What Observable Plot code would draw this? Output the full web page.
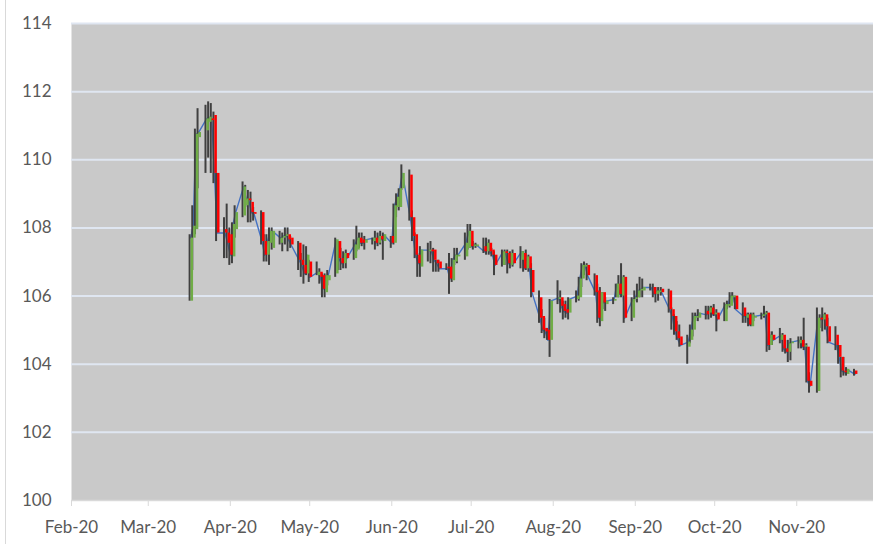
<!DOCTYPE html>
<html>
<head>
<meta charset="utf-8">
<script src="https://cdn.jsdelivr.net/npm/d3@7"></script>
<script src="https://cdn.jsdelivr.net/npm/@observablehq/plot@0.6"></script>
<style>
  html, body { margin: 0; padding: 0; background: #ffffff; }
  #wrap { position: relative; width: 873px; height: 544px; overflow: hidden; }
  #edge { position: absolute; left: 5px; top: 0; width: 1px; height: 544px; background: #d9d9d9; }
</style>
</head>
<body>
<div id="wrap"><div id="edge"></div></div>
<script>
// Daily OHLC quotes, 2020
const dates = [
  "2020-03-17","2020-03-18","2020-03-19","2020-03-20",
  "2020-03-23","2020-03-24","2020-03-25","2020-03-26","2020-03-27",
  "2020-03-30","2020-03-31","2020-04-01","2020-04-02","2020-04-03",
  "2020-04-06","2020-04-07","2020-04-08","2020-04-09","2020-04-10",
  "2020-04-13","2020-04-14","2020-04-15","2020-04-16","2020-04-17",
  "2020-04-20","2020-04-21","2020-04-22","2020-04-23","2020-04-24",
  "2020-04-27","2020-04-28","2020-04-29","2020-04-30","2020-05-01",
  "2020-05-04","2020-05-05","2020-05-06","2020-05-07","2020-05-08",
  "2020-05-11","2020-05-12","2020-05-13","2020-05-14","2020-05-15",
  "2020-05-18","2020-05-19","2020-05-20","2020-05-21","2020-05-22",
  "2020-05-25","2020-05-26","2020-05-27","2020-05-28","2020-05-29",
  "2020-06-01","2020-06-02","2020-06-03","2020-06-04","2020-06-05",
  "2020-06-08","2020-06-09","2020-06-10","2020-06-11","2020-06-12",
  "2020-06-15","2020-06-16","2020-06-17","2020-06-18","2020-06-19",
  "2020-06-22","2020-06-23","2020-06-24","2020-06-25","2020-06-26",
  "2020-06-29","2020-06-30","2020-07-01","2020-07-02","2020-07-03",
  "2020-07-06","2020-07-07","2020-07-08","2020-07-09","2020-07-10",
  "2020-07-13","2020-07-14","2020-07-15","2020-07-16","2020-07-17",
  "2020-07-20","2020-07-21","2020-07-22","2020-07-23","2020-07-24",
  "2020-07-27","2020-07-28","2020-07-29","2020-07-30","2020-07-31",
  "2020-08-03","2020-08-04","2020-08-05","2020-08-06","2020-08-07",
  "2020-08-10","2020-08-11","2020-08-12","2020-08-13","2020-08-14",
  "2020-08-17","2020-08-18","2020-08-19","2020-08-20","2020-08-21",
  "2020-08-24","2020-08-25","2020-08-26","2020-08-27","2020-08-28",
  "2020-08-31","2020-09-01","2020-09-02","2020-09-03","2020-09-04",
  "2020-09-07","2020-09-08","2020-09-09","2020-09-10","2020-09-11",
  "2020-09-14","2020-09-15","2020-09-16","2020-09-17","2020-09-18",
  "2020-09-21","2020-09-22","2020-09-23","2020-09-24","2020-09-25",
  "2020-09-28","2020-09-29","2020-09-30","2020-10-01","2020-10-02",
  "2020-10-05","2020-10-06","2020-10-07","2020-10-08","2020-10-09",
  "2020-10-12","2020-10-13","2020-10-14","2020-10-15","2020-10-16",
  "2020-10-19","2020-10-20","2020-10-21","2020-10-22","2020-10-23",
  "2020-10-26","2020-10-27","2020-10-28","2020-10-29","2020-10-30",
  "2020-11-02","2020-11-03","2020-11-04","2020-11-05","2020-11-06",
  "2020-11-09","2020-11-10","2020-11-11","2020-11-12","2020-11-13",
  "2020-11-16","2020-11-17","2020-11-18","2020-11-19","2020-11-20",
  "2020-11-23"
];
const open = [
  105.85,107.7,107.95,110.65,
  110.85,111.1,111.2,111.3,109.6,
  107.95,107.85,107.8,107.15,107.95,
  108.35,108.65,108.85,108.75,108.45,
  108.45,107.6,107.2,107.55,107.4,
  107.55,107.7,107.75,107.8,107.7,
  107.55,107.05,106.9,106.65,107.0,
  106.6,106.7,106.6,106.1,106.45,
  106.65,107.6,107.1,106.95,107.25,
  107.1,107.35,107.7,107.65,107.55,
  107.6,107.7,107.55,107.75,107.6,
  107.75,107.55,108.6,108.6,109.15,
  109.55,108.3,107.8,107.2,106.85,
  107.3,107.35,107.35,107.05,107.0,
  106.85,106.85,106.45,107.0,107.15,
  107.15,107.4,107.9,107.45,107.45,
  107.45,107.3,107.55,107.35,107.2,
  106.9,107.3,107.25,106.9,107.25,
  107.05,107.25,106.8,107.15,106.75,
  105.95,105.4,105.05,105.0,104.7,
  105.9,105.95,105.75,105.6,105.5,
  105.9,105.95,106.5,106.85,106.9,
  106.6,106.15,105.25,106.1,105.75,
  105.85,105.95,106.35,106.0,106.55,
  105.35,105.9,105.95,106.15,106.15,
  106.25,106.25,106.05,106.1,106.2,
  106.15,105.6,105.4,104.95,104.8,
  104.5,104.7,105.0,105.35,105.35,
  105.55,105.5,105.65,105.45,105.5,
  105.25,105.7,105.7,105.95,106.0,
  105.65,105.35,105.45,105.1,105.35,
  105.4,105.45,105.5,104.55,104.85,
  104.7,104.85,104.45,104.35,104.6,
  104.6,104.7,104.5,104.5,103.5,
  103.2,105.35,105.3,105.45,105.1,
  104.85,104.55,104.2,103.8,103.7,
  103.8
];
const high = [
  107.8,108.65,110.9,111.5,
  111.6,111.7,111.65,111.4,109.6,
  108.3,108.7,108.0,108.15,108.65,
  109.35,109.25,109.1,109.05,108.6,
  108.5,107.8,107.8,108.0,108.0,
  107.9,107.85,108.0,108.0,107.75,
  107.6,107.25,107.5,107.45,107.05,
  107.0,106.8,106.65,106.65,106.75,
  107.7,107.6,107.4,107.3,107.35,
  107.65,108.05,107.85,107.85,107.75,
  107.7,107.9,107.85,107.9,107.85,
  107.75,108.7,109.0,109.15,109.85,
  109.7,108.5,107.85,107.25,107.45,
  107.55,107.6,107.4,107.05,107.05,
  106.95,107.25,107.1,107.4,107.4,
  107.85,108.1,108.1,107.6,107.55,
  107.7,107.7,107.65,107.4,107.3,
  107.35,107.35,107.35,107.3,107.35,
  107.45,107.3,107.35,107.2,106.95,
  106.15,105.6,105.35,105.05,105.9,
  106.45,106.15,105.85,105.85,105.95,
  106.15,106.55,106.95,107.0,106.95,
  106.65,106.35,106.25,106.1,105.95,
  105.95,106.35,106.6,106.95,106.6,
  105.95,106.15,106.35,106.55,106.5,
  106.35,106.35,106.25,106.25,106.25,
  106.2,105.65,105.45,105.25,105.15,
  104.85,105.15,105.5,105.5,105.6,
  105.7,105.7,105.7,105.75,105.6,
  105.8,105.85,106.1,106.1,106.0,
  105.8,105.5,105.5,105.5,105.5,
  105.5,105.7,105.55,104.95,104.95,
  105.05,104.9,104.7,104.7,104.75,
  104.8,104.8,105.35,104.6,103.75,
  105.65,105.45,105.65,105.5,105.35,
  105.1,104.55,104.2,104.2,103.9,
  103.85
];
const low = [
  105.85,106.75,107.8,109.15,
  109.6,110.05,109.6,109.3,107.6,
  107.1,107.1,106.9,106.95,107.7,
  108.3,108.6,108.15,108.15,108.2,
  107.5,107.0,107.0,106.9,107.35,
  107.5,107.3,107.5,107.3,107.4,
  106.75,106.55,106.35,106.6,106.4,
  106.6,106.35,105.95,105.95,106.3,
  106.55,106.75,106.75,106.8,106.8,
  107.05,107.3,107.4,107.45,107.35,
  107.5,107.35,107.45,107.5,107.05,
  107.4,107.5,108.3,108.5,109.1,
  108.2,107.6,107.1,106.55,106.55,
  107.0,106.95,106.7,106.7,106.7,
  106.75,106.05,106.4,106.9,106.95,
  107.05,107.35,107.4,107.35,107.4,
  107.25,107.2,107.2,107.15,106.6,
  106.85,106.9,106.65,106.8,106.85,
  106.8,106.7,106.75,106.7,105.95,
  105.2,104.9,104.75,104.7,104.2,
  105.75,105.5,105.3,105.35,105.3,
  105.8,105.85,106.25,106.6,106.45,
  106.0,105.2,105.1,105.6,105.55,
  105.75,105.95,105.95,105.95,105.2,
  105.25,105.85,105.8,105.95,105.95,
  106.15,105.95,105.8,105.85,106.0,
  105.5,105.0,104.85,104.7,104.5,
  104.0,104.6,104.8,105.25,105.25,
  105.3,105.3,105.35,105.4,104.95,
  105.25,105.6,105.65,105.8,105.6,
  105.2,105.2,105.1,105.1,105.25,
  105.3,105.35,104.35,104.4,104.55,
  104.6,104.35,104.3,104.05,104.1,
  104.45,104.45,104.4,103.45,103.15,
  103.15,105.05,104.95,105.0,104.6,
  104.4,104.0,103.6,103.65,103.65,
  103.65
];
const close = [
  107.7,108.05,110.75,110.8,
  111.2,111.25,111.15,109.6,107.85,
  107.85,107.55,107.2,108.1,108.45,
  109.2,108.85,108.8,108.45,108.4,
  107.6,107.2,107.6,107.9,107.9,
  107.7,107.75,107.8,107.65,107.5,
  107.05,106.9,106.65,107.2,106.55,
  106.7,106.55,106.2,106.6,106.6,
  107.65,107.1,106.95,107.25,107.1,
  107.5,107.7,107.55,107.55,107.65,
  107.7,107.55,107.75,107.65,107.8,
  107.55,108.65,108.9,109.15,109.6,
  108.3,107.75,107.2,106.95,107.35,
  107.35,107.3,107.05,106.95,106.8,
  106.8,106.5,107.05,107.2,107.2,
  107.55,107.9,107.45,107.5,107.5,
  107.3,107.55,107.3,107.2,106.9,
  107.3,107.25,106.95,107.25,106.95,
  107.3,106.8,107.15,106.8,106.1,
  105.35,105.0,104.95,104.7,105.85,
  105.95,105.7,105.55,105.5,105.9,
  106.0,106.5,106.9,106.9,106.6,
  106.1,105.35,106.1,105.8,105.85,
  105.9,106.35,106.05,106.55,105.35,
  105.9,105.95,106.15,106.2,106.25,
  106.25,106.05,106.15,106.15,106.1,
  105.6,105.4,104.95,104.75,104.55,
  104.65,105.0,105.4,105.4,105.5,
  105.45,105.65,105.45,105.5,105.3,
  105.75,105.75,106.0,106.0,105.6,
  105.4,105.45,105.15,105.45,105.4,
  105.45,105.5,104.55,104.85,104.7,
  104.85,104.45,104.35,104.6,104.65,
  104.7,104.5,104.55,103.5,103.35,
  105.35,105.3,105.45,105.1,104.65,
  104.55,104.2,103.8,103.75,103.85,
  103.7
];

// Axis ticks
const monthTicks = [
  "2020-02-01","2020-03-01","2020-04-01","2020-05-01","2020-06-01",
  "2020-07-01","2020-08-01","2020-09-01","2020-10-01","2020-11-01"
];
const priceTicks = [100, 102, 104, 106, 108, 110, 112, 114];

const rows = dates.map((d, i) => ({
  date: new Date(d),
  open: open[i],
  high: high[i],
  low: low[i],
  close: close[i]
}));

const upColor = "#70ad47";
const downColor = "#ff0000";

const chart = Plot.plot({
  width: 873,
  height: 544,
  marginLeft: 71,
  marginRight: 0,
  marginTop: 23,
  marginBottom: 44,
  style: {
    fontFamily: "Lato, 'Open Sans', sans-serif",
    fontSize: "17px",
    background: "transparent",
    color: "#595959"
  },
  x: {
    type: "utc",
    domain: [new Date("2020-02-01"), new Date("2020-11-30")],
    axis: null
  },
  y: {
    domain: [100, 114],
    axis: null
  },
  marks: [
    Plot.frame({fill: "#c9c9c9", stroke: null}),
    Plot.gridY(priceTicks.filter(v => v > 100), {stroke: "#dfe6f1", strokeOpacity: 1, strokeWidth: 2}),
    Plot.ruleY([100], {stroke: "#d9d9d9", strokeWidth: 1.5}),
    Plot.axisX(monthTicks.map(d => new Date(d)), {
      tickFormat: d3.utcFormat("%b-%y"),
      tickSize: 6,
      tickPadding: 14,
      stroke: "#d9d9d9",
      fill: "#595959",
      label: null
    }),
    Plot.axisY(priceTicks, {
      tickSize: 0,
      tickPadding: 20,
      fill: "#595959",
      label: null
    }),
    // close line under the bars
    Plot.line(rows, {x: "date", y: "close", stroke: "#4472c4", strokeWidth: 1.4}),
    // high-low range
    Plot.ruleX(rows, {x: "date", y1: "low", y2: "high", stroke: "#404040", strokeWidth: 2, dx: -1}),
    // open-close body
    Plot.ruleX(rows, {
      x: "date",
      y1: "open",
      y2: "close",
      stroke: d => d.close >= d.open ? upColor : downColor,
      strokeWidth: 2.5,
      dx: 1.2
    })
  ]
});

document.getElementById("wrap").appendChild(chart);
</script>
</body>
</html>
